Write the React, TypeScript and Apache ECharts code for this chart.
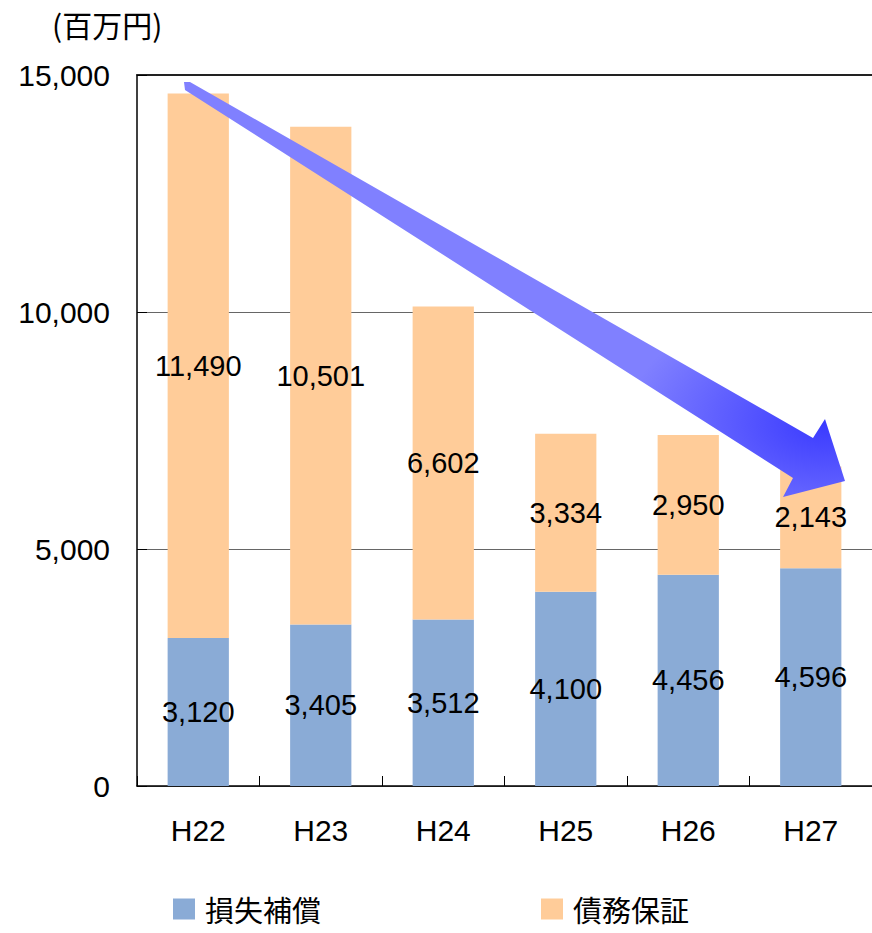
import React, { useEffect, useRef } from "react";
import * as echarts from "echarts";

const categories = ["H22", "H23", "H24", "H25", "H26", "H27"];
const lossCompensation = [3120, 3405, 3512, 4100, 4456, 4596];
const debtGuarantee = [11490, 10501, 6602, 3334, 2950, 2143];
const seriesNames = ["損失補償", "債務保証"];
const yTicks = { min: 0, max: 15000, interval: 5000 };
const unitLabel = "(百万円)";

const FONT = "'Liberation Sans', 'Noto Sans CJK JP', sans-serif";
const CJK = "'Noto Sans CJK JP', 'Liberation Sans', sans-serif";

export default function App() {
  const ref = useRef<HTMLDivElement>(null);
  useEffect(() => {
    if (!ref.current) return;
    const chart = echarts.init(ref.current, null, { renderer: "svg" });
    const fmt = (v: number) => v.toLocaleString("en-US");
    const label = {
      show: true,
      position: "inside",
      color: "#000",
      fontSize: 29,
      fontFamily: FONT,
      formatter: (p: any) => fmt(p.value),
    };
    chart.setOption({
      animation: false,
      backgroundColor: "#fff",
      grid: { left: 137, top: 75, width: 737, height: 711, containLabel: false },
      legend: {
        left: 168,
        top: 889,
        itemWidth: 22,
        itemHeight: 21,
        itemGap: 220,
        icon: "rect",
        data: seriesNames,
        textStyle: { fontSize: 29, lineHeight: 30, fontFamily: CJK, color: "#000", padding: [0, 0, 0, 5] },
      },
      xAxis: [
        {
          type: "category",
          data: categories,
          axisLine: { lineStyle: { color: "#000", width: 1.5 } },
          axisTick: { show: true, inside: true, length: 10, lineStyle: { color: "#000" } },
          axisLabel: { color: "#000", fontSize: 30, fontFamily: FONT, margin: 29 },
        },
        {
          type: "category",
          data: categories,
          position: "top",
          axisLine: { show: true, lineStyle: { color: "#222", width: 2 } },
          axisTick: { show: false },
          axisLabel: { show: false },
        },
      ],
      yAxis: {
        type: "value",
        min: yTicks.min,
        max: yTicks.max,
        interval: yTicks.interval,
        axisLine: { show: true, lineStyle: { color: "#000", width: 1.5 } },
        axisTick: { show: true, inside: true, length: 10, lineStyle: { color: "#000" } },
        axisLabel: { color: "#000", fontSize: 30, fontFamily: FONT, margin: 27, formatter: (v: number) => fmt(v) },
        splitLine: { show: true, lineStyle: { color: "#666", width: 1 } },
      },
      series: [
        {
          name: seriesNames[0],
          type: "bar",
          stack: "total",
          data: lossCompensation,
          barWidth: "50%",
          itemStyle: { color: "#8AABD6" },
          label,
        },
        {
          name: seriesNames[1],
          type: "bar",
          stack: "total",
          data: debtGuarantee,
          barWidth: "50%",
          itemStyle: { color: "#FFCC99" },
          label,
        },
      ],
      graphic: [
        {
          type: "text",
          left: 52,
          top: 9,
          style: { text: unitLabel, fontSize: 30, fontFamily: CJK, fill: "#000" },
        },
        {
          type: "polygon",
          z: 100,
          shape: {
            points: [
              [184, 82],
              [190, 82],
              [813, 438],
              [825, 419],
              [845, 481],
              [783, 497],
              [793, 478],
              [185, 90],
            ],
          },
          style: {
            fill: new echarts.graphic.RadialGradient(0.97, 0.82, 0.3, [
              { offset: 0, color: "#3a3aff" },
              { offset: 1, color: "#8080ff" },
            ]),
          },
        },
      ],
    });
    return () => chart.dispose();
  }, []);
  return (
    <div
      ref={ref}
      style={{ position: "fixed", left: 0, top: 0, width: 872, height: 933 }}
    />
  );
}
